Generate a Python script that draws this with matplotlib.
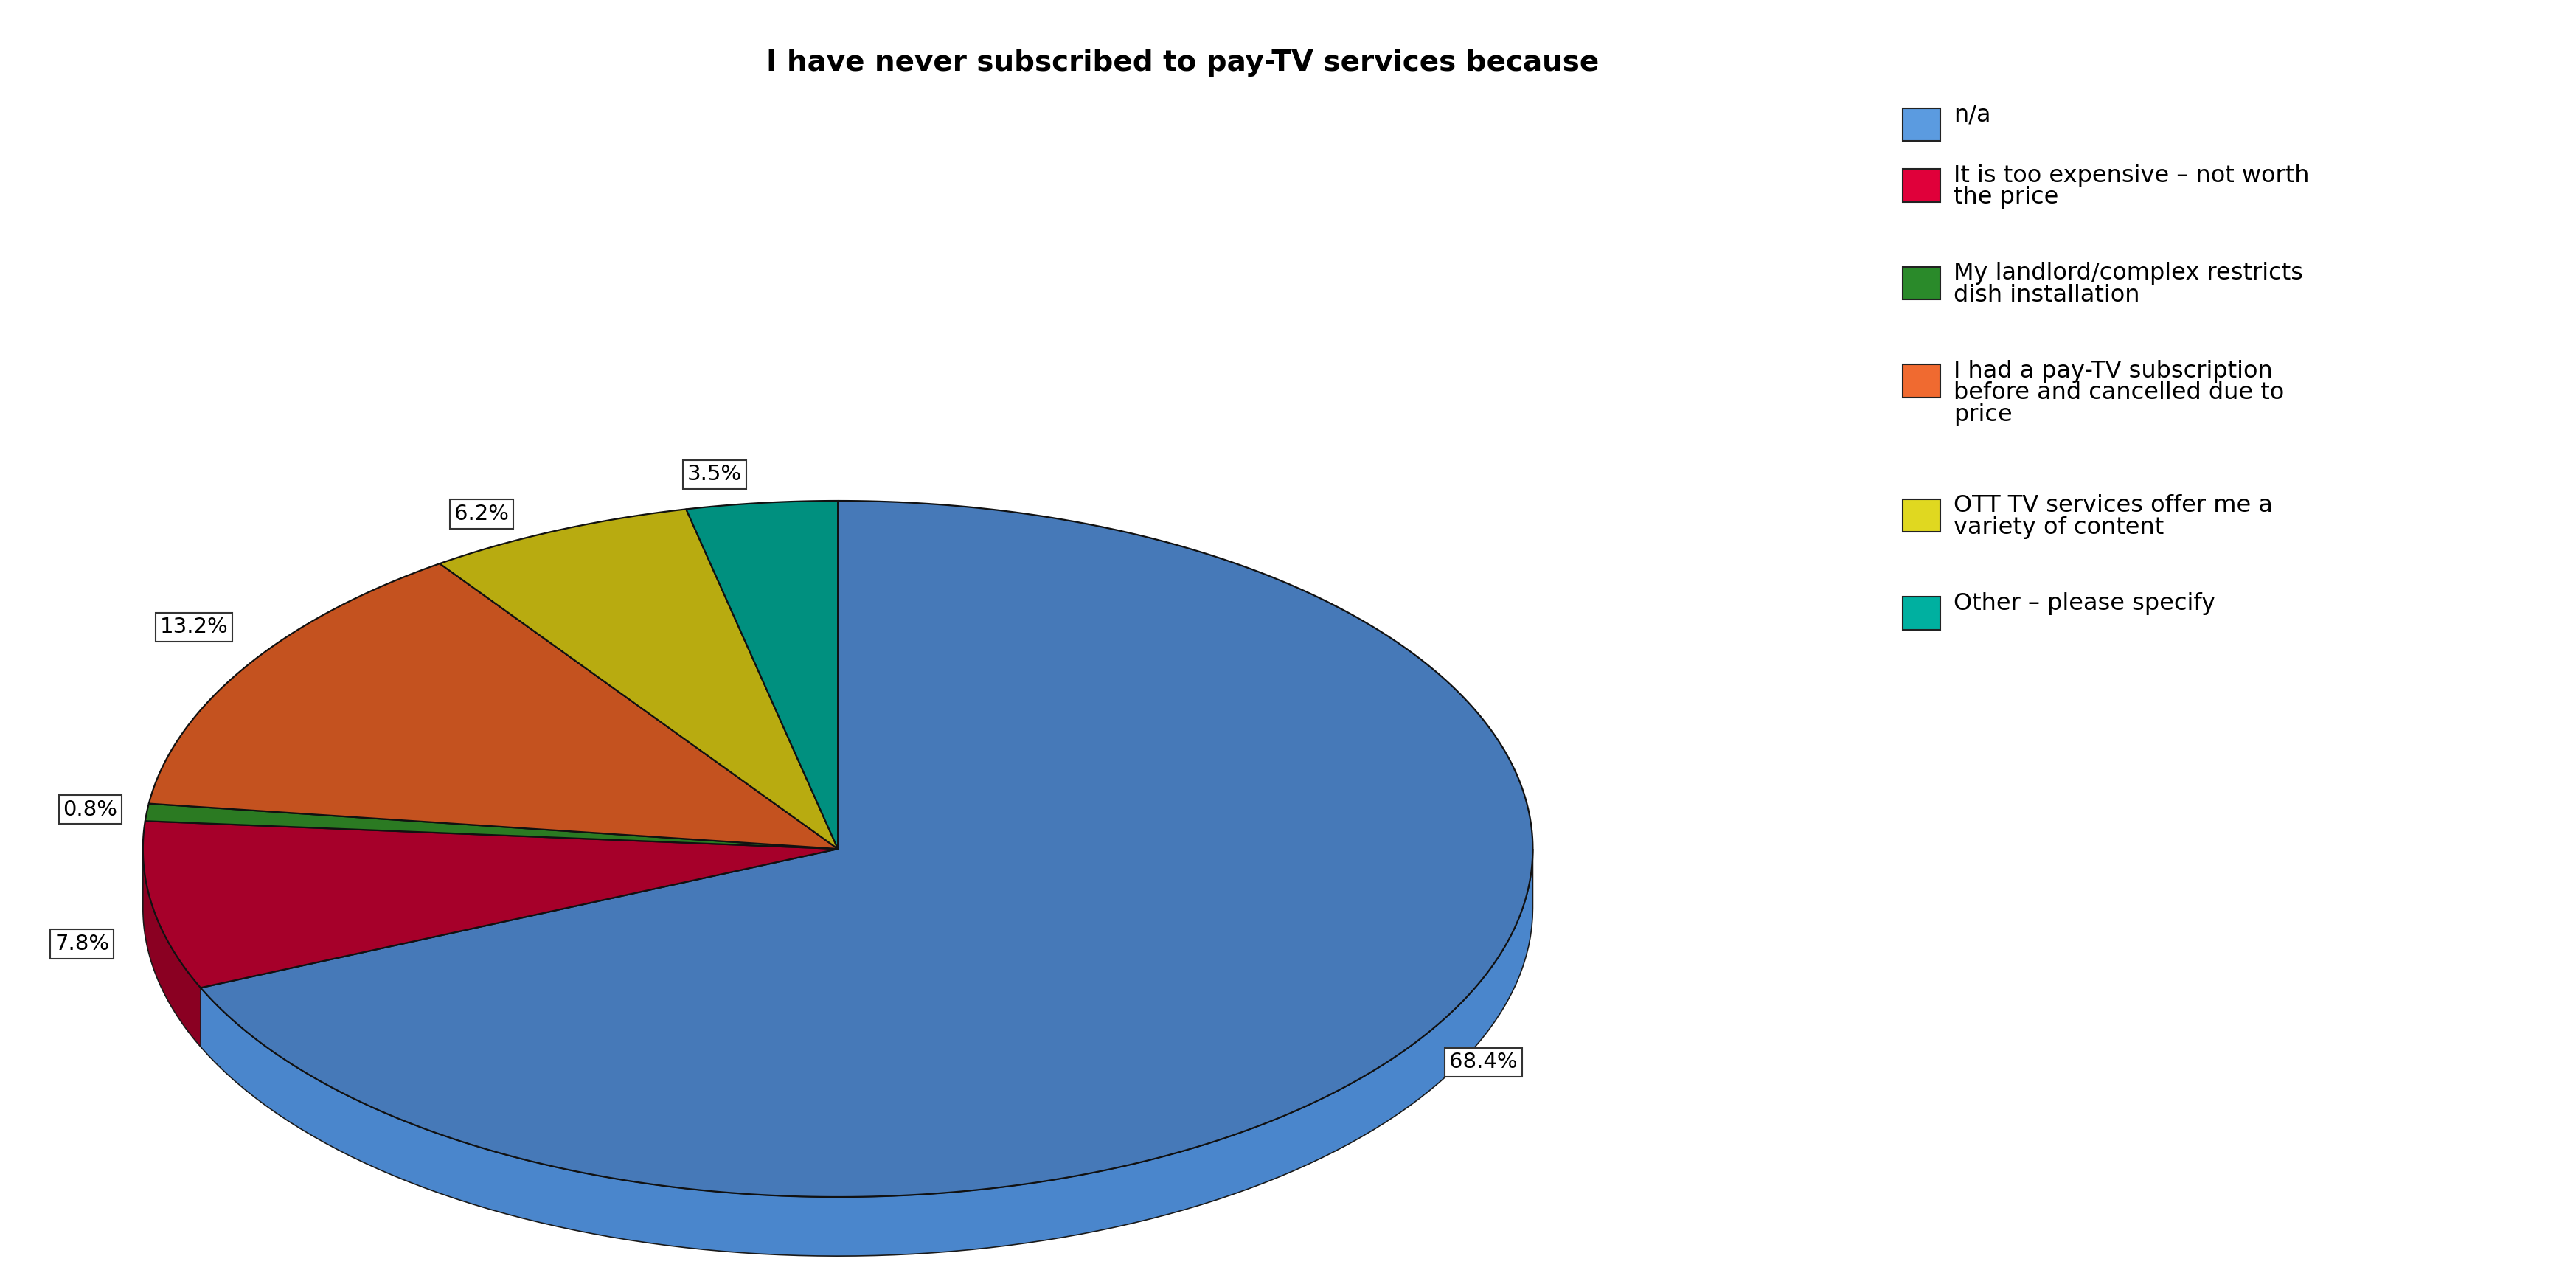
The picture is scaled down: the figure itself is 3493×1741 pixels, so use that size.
import numpy as np
import matplotlib
matplotlib.use("Agg")
import matplotlib.pyplot as plt
from matplotlib.patches import Polygon, Rectangle

categories = ["n/a", "It is too expensive – not worth\nthe price",
              "My landlord/complex restricts\ndish installation",
              "I had a pay-TV subscription\nbefore and cancelled due to\nprice",
              "OTT TV services offer me a\nvariety of content",
              "Other – please specify"]
values = [68.4, 7.8, 0.8, 13.2, 6.2, 3.5]
labels = ["68.4%", "7.8%", "0.8%", "13.2%", "6.2%", "3.5%"]
top_colors = ["#4679b8", "#a6002a", "#2b7a22", "#c4521f", "#b8ab10", "#00907f"]
side_colors = ["#4a86cc", "#8a0022", "#22641c", "#a4441a", "#9a8f0c", "#007868"]
legend_colors = ["#5b9be0", "#e0003a", "#2a8a2a", "#f06a30", "#e0d820", "#00b0a0"]
label_pos = [(903, 647), (50, 575), (55, 493), (118, 382), (293, 313), (435, 289)]

W, H = 1568, 782
fig = plt.figure(figsize=(34.93, 17.41), dpi=100)
ax = fig.add_axes([0, 0, 1, 1])
ax.set_xlim(0, W); ax.set_ylim(H, 0); ax.axis("off")

cx, cy, rx, ry, depth = 510, 517, 423, 212, 36
def pt(t, d=0):
    r = np.radians(t)
    return cx + rx*np.cos(r), cy - ry*np.sin(r) + d

total = sum(values)
cum = 0
spans = []
for v in values:
    a0 = 90 - cum/total*360
    a1 = a0 - v/total*360
    spans.append((a1, a0))
    cum += v

# side walls
for (lo, hi), sc in zip(spans, side_colors):
    for off in (0, 360, -360):
        l, h = max(lo+off, -180), min(hi+off, 0)
        if h > l:
            ts = np.linspace(l, h, 100)
            top = [pt(t) for t in ts]
            bot = [pt(t, depth) for t in ts[::-1]]
            ax.add_patch(Polygon(top+bot, closed=True, fc=sc, ec="#1a1a1a", lw=1.2))
# top faces
for (lo, hi), tc in zip(spans, top_colors):
    ts = np.linspace(lo, hi, 300)
    poly = [(cx, cy)] + [pt(t) for t in ts]
    ax.add_patch(Polygon(poly, closed=True, fc=tc, ec="#111111", lw=1.6, joinstyle="round"))

for (x, y), lab in zip(label_pos, labels):
    ax.text(x, y, lab, ha="center", va="center", fontsize=21, family="DejaVu Sans",
            bbox=dict(boxstyle="square,pad=0.2", fc="white", ec="#333333", lw=1.5))

ax.text(720, 38, "I have never subscribed to pay-TV services because", ha="center",
        va="center", fontsize=28, fontweight="bold", family="DejaVu Sans")

y = 66
lh = 22.5
for cat, c in zip(categories, legend_colors):
    ax.add_patch(Rectangle((1158, y), 23, 20, fc=c, ec="#222222", lw=1.5))
    ax.text(1189, y - 3, cat, ha="left", va="top", fontsize=23, family="DejaVu Sans",
            linespacing=0.95)
    y += lh * cat.count("\n") + 37

fig.savefig("out.png", dpi=100, facecolor="white")
